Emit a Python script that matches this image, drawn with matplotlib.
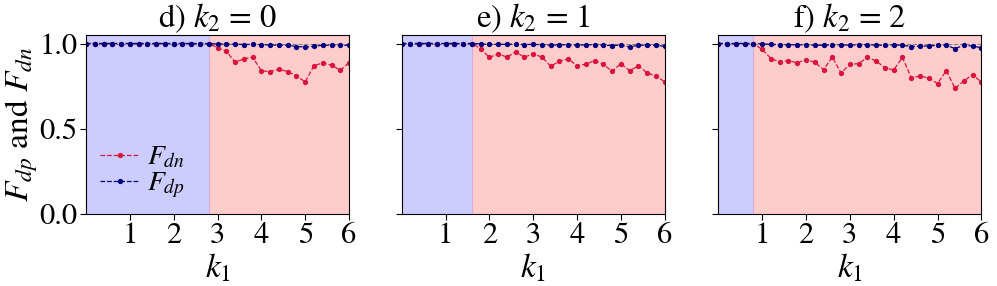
import numpy as np
import matplotlib
matplotlib.use("Agg")
import matplotlib.pyplot as plt

plt.rcParams["font.family"] = "serif"
plt.rcParams["font.serif"] = ["STIXGeneral", "Liberation Serif", "DejaVu Serif"]
plt.rcParams["mathtext.fontset"] = "stix"

# k1 grid used in every panel
k1 = np.round(np.arange(0, 6.0001, 0.2), 1)

# boundary of the blue region per panel
k2_values = [0, 1, 2]
panel_letters = ["d", "e", "f"]
boundaries = [2.8, 1.6, 0.8]

# F_dn (red) per panel
fdn_d = [1.0] * 13 + [0.995, 1.0,
         0.975, 0.955, 0.89, 0.91, 0.92, 0.84, 0.835, 0.85, 0.835, 0.81,
         0.775, 0.87, 0.886, 0.873, 0.843, 0.888]
fdn_e = [1.0] * 9 +   [0.97, 0.918, 0.94, 0.92, 0.95, 0.92, 0.94, 0.92,
         0.867, 0.896, 0.91, 0.87, 0.878, 0.9, 0.878, 0.837, 0.882, 0.84,
         0.869, 0.827, 0.81, 0.775]
fdn_f = [1.0] * 5 + [0.965, 0.912, 0.892, 0.9, 0.886, 0.906, 0.89, 0.847,
         0.92, 0.827, 0.878, 0.882, 0.918, 0.898, 0.857, 0.845, 0.918, 0.8,
         0.808, 0.798, 0.765, 0.84, 0.737, 0.78, 0.818, 0.773]

# F_dp (blue) per panel
fdp_d = [1.0] * 15 + [0.997, 0.997, 0.996, 0.994, 0.995, 0.993, 0.992, 0.99,
         0.99, 0.982, 0.98, 0.983, 0.99, 0.99, 0.99, 0.99]
fdp_e = [1.0] * 9 + [0.998, 0.995, 0.995, 0.995, 0.996, 0.994, 0.995, 0.993,
         0.99, 0.992, 0.993, 0.99, 0.992, 0.993, 0.99, 0.988, 0.99, 0.98,
         0.99, 0.99, 0.99, 0.983]
fdp_f = [1.0] * 5 + [0.998, 0.995, 0.993, 0.993, 0.992, 0.992, 0.99, 0.99,
         0.992, 0.992, 0.99, 0.992, 0.994, 0.99, 0.99, 0.992, 0.99, 0.982,
         0.985, 0.985, 0.99, 0.99, 0.97, 0.99, 0.985, 0.975]

fdn_all = [fdn_d, fdn_e, fdn_f]
fdp_all = [fdp_d, fdp_e, fdp_f]

fig = plt.figure(figsize=(9.97, 2.86), dpi=100)
lefts = [0.0863, 0.4029, 0.7205]
axes = [fig.add_axes([l, 0.2517, 0.2638, 0.626]) for l in lefts]

for i, ax in enumerate(axes):
    b = boundaries[i]
    ax.axvspan(0, b, color="#ccccff", lw=0)
    ax.axvspan(b, 6, color="#ffcccc", lw=0)
    ax.axvline(b, color="#d8aadd", lw=0.8)
    ax.axhline(1.0, color="gray", ls="--", lw=0.8)
    ax.plot(k1, fdn_all[i], ls="--", color="crimson", marker="o",
            markersize=2.8, lw=0.9, label="$F_{dn}$")
    ax.plot(k1, fdp_all[i], ls="--", color="navy", marker="o",
            markersize=2.8, lw=0.9, label="$F_{dp}$")
    ax.set_xlim(0, 6)
    ax.set_ylim(0, 1.05)
    ax.set_xticks([1, 2, 3, 4, 5, 6])
    ax.set_yticks([0.0, 0.5, 1.0])
    ax.tick_params(labelsize=22, length=4, pad=2)
    ax.set_xlabel("$k_1$", fontsize=24, labelpad=1)
    ax.set_title(f"{panel_letters[i]}) $k_2$ = {k2_values[i]}", fontsize=23.5, pad=3)
    if i == 0:
        ax.set_ylabel("$F_{dp}$ and $F_{dn}$", fontsize=24, labelpad=0)
        ax.legend(loc="lower left", bbox_to_anchor=(-0.02, -0.03), frameon=False,
                  fontsize=20, handlelength=1.4, labelspacing=0.0,
                  borderpad=0.2, handletextpad=0.3)
    else:
        ax.set_yticklabels([])

fig.savefig("out.png", dpi=100)
